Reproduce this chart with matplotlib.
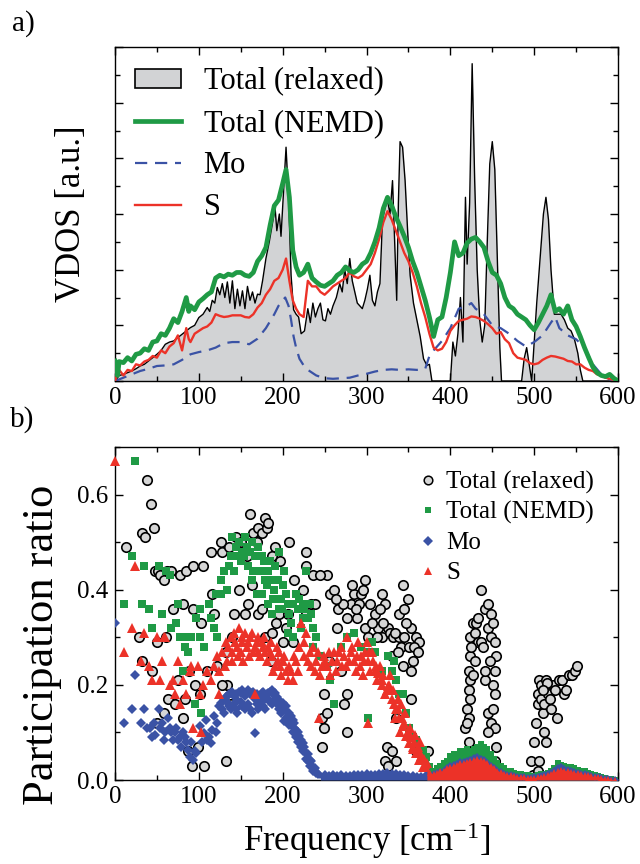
import matplotlib
matplotlib.use("Agg")
import matplotlib.pyplot as plt
from matplotlib.patches import Patch
from matplotlib.lines import Line2D
from matplotlib.ticker import MultipleLocator, NullFormatter, FormatStrFormatter

plt.rcParams['font.family'] = ['Liberation Serif', 'DejaVu Serif']
plt.rcParams['mathtext.fontset'] = 'custom'
plt.rcParams['mathtext.rm'] = 'Liberation Serif'
plt.rcParams['mathtext.it'] = 'Liberation Serif:italic'

GREEN = '#1f9a45'
RED = '#ec3228'
BLUE = '#3a52a5'
FILL = '#d2d3d5'
CIRCLE_FACE = '#d6d6d6'

# ---------------- (a) vibrational density of states ----------------
relaxed_vdos = [
    (0, 0.0), (5, 0.1), (10, 0.12), (15, 0.15), (20, 0.18), (25, 0.22), (30, 0.27), (35, 0.3),
    (40, 0.36), (45, 0.42), (50, 0.48), (55, 0.55), (60, 0.66), (65, 0.7), (70, 0.72), (75, 0.78),
    (80, 0.84), (85, 0.9), (90, 0.96), (95, 1.0), (100, 1.14), (105, 1.2), (110, 1.32), (113, 1.25),
    (116, 1.45), (119, 1.4), (122, 1.68), (125, 1.55), (128, 1.75), (131, 1.5), (134, 1.78),
    (137, 1.4), (140, 1.8), (143, 1.3), (146, 1.65), (149, 1.35), (152, 1.62), (155, 1.3),
    (158, 1.7), (161, 1.45), (164, 1.6), (167, 1.4), (170, 1.56), (173, 1.55), (176, 1.8),
    (180, 2.2), (184, 2.5), (188, 2.85), (191, 3.1), (193, 2.7), (196, 3.0), (198, 2.6),
    (201, 3.4), (204, 4.2), (207, 3.3), (210, 1.9), (213, 1.28), (216, 1.2), (219, 1.15),
    (222, 0.85), (226, 0.9), (230, 1.3), (233, 1.05), (236, 1.4), (239, 1.15), (242, 1.3),
    (245, 1.4), (248, 1.1), (251, 1.08), (254, 1.3), (257, 1.2), (260, 1.35), (264, 1.5),
    (268, 1.75), (271, 1.6), (274, 2.0), (277, 1.75), (280, 2.2), (283, 1.8), (286, 1.6),
    (289, 1.4), (292, 1.35), (295, 1.3), (298, 1.45), (301, 1.65), (304, 1.9), (307, 1.45),
    (310, 1.35), (313, 1.6), (316, 1.75), (319, 2.9), (322, 3.1), (325, 3.25), (328, 3.0),
    (331, 3.6), (334, 2.3), (336, 1.45), (338, 3.2), (340, 4.3), (343, 4.2), (346, 3.6),
    (349, 2.7), (352, 1.9), (356, 1.4), (360, 1.1), (364, 0.8), (368, 0.4), (372, 0.28),
    (375, 0.3), (378, 0.0), (400, 0.0), (403, 0.7), (406, 0.45), (409, 0.85), (412, 1.5),
    (415, 0.7), (418, 3.3), (420, 2.1), (423, 3.2), (426, 5.7), (429, 3.6), (432, 2.0),
    (435, 1.1), (438, 0.7), (441, 1.0), (444, 2.5), (447, 3.9), (450, 4.3), (453, 3.8),
    (456, 2.2), (459, 0.6), (461, 0.0), (485, 0.0), (488, 0.4), (491, 0.6), (494, 0.3),
    (497, 0.0), (500, 0.7), (503, 1.4), (507, 2.2), (511, 3.0), (514, 3.3), (517, 2.9),
    (520, 2.0), (524, 1.2), (528, 1.2), (532, 1.2), (536, 1.1), (540, 0.95), (544, 0.9),
    (548, 0.75), (552, 0.5), (555, 0.2), (558, 0.0), (600, 0.0),
]

nemd_vdos = [
    (0, 0.36), (3, 0.1), (5, 0.35), (10, 0.33), (15, 0.42), (20, 0.36), (25, 0.48), (30, 0.5),
    (35, 0.58), (40, 0.55), (45, 0.7), (50, 0.72), (55, 0.85), (60, 0.82), (65, 0.95), (70, 1.12),
    (75, 1.05), (80, 1.25), (85, 1.5), (88, 1.25), (90, 1.35), (95, 1.28), (100, 1.42),
    (105, 1.48), (110, 1.55), (115, 1.6), (120, 1.85), (125, 1.9), (130, 1.87), (135, 1.92),
    (140, 1.9), (145, 1.95), (150, 1.95), (155, 1.9), (160, 1.88), (165, 1.95), (170, 2.15),
    (175, 2.25), (180, 2.4), (185, 2.8), (190, 3.15), (195, 3.25), (200, 3.55), (204, 3.8),
    (208, 3.3), (212, 2.35), (216, 2.05), (220, 1.9), (225, 1.95), (230, 2.1), (235, 1.85),
    (240, 1.78), (245, 1.72), (250, 1.7), (255, 1.75), (260, 1.8), (265, 1.9), (270, 1.95),
    (275, 2.05), (280, 1.98), (285, 1.95), (290, 2.0), (295, 2.1), (300, 2.15), (305, 2.3),
    (310, 2.5), (315, 2.75), (320, 3.1), (325, 3.3), (330, 3.15), (335, 2.95), (340, 2.78),
    (345, 2.6), (350, 2.4), (355, 2.15), (360, 1.95), (365, 1.7), (370, 1.45), (375, 1.15),
    (380, 0.8), (385, 1.1), (390, 1.15), (395, 1.5), (400, 1.95), (405, 2.5), (410, 2.25),
    (415, 2.3), (420, 2.48), (425, 2.55), (430, 2.58), (435, 2.5), (440, 2.4), (445, 2.15),
    (450, 1.95), (455, 1.9), (460, 1.75), (465, 1.5), (470, 1.35), (475, 1.3), (480, 1.2),
    (485, 1.15), (490, 1.1), (495, 1.0), (500, 0.92), (505, 1.05), (510, 1.2), (515, 1.35),
    (520, 1.55), (525, 1.25), (530, 1.3), (535, 1.2), (540, 1.35), (545, 1.1), (550, 0.98),
    (555, 0.8), (560, 0.6), (565, 0.42), (570, 0.25), (575, 0.15), (580, 0.1), (585, 0.08),
    (590, 0.12), (595, 0.05), (600, 0.0),
]

s_vdos = [
    (0, 0.0), (3, 0.15), (5, 0.2), (10, 0.1), (15, 0.2), (20, 0.18), (25, 0.3), (30, 0.28),
    (35, 0.35), (40, 0.38), (45, 0.45), (50, 0.42), (55, 0.55), (60, 0.5), (65, 0.62), (70, 0.68),
    (75, 0.82), (80, 0.55), (85, 0.95), (88, 0.75), (90, 0.7), (95, 0.85), (100, 0.9),
    (105, 0.95), (110, 0.98), (115, 1.05), (120, 1.2), (125, 1.17), (130, 1.15), (135, 1.16),
    (140, 1.18), (145, 1.18), (150, 1.18), (155, 1.15), (160, 1.14), (165, 1.2), (170, 1.32),
    (175, 1.4), (180, 1.55), (185, 1.65), (190, 1.8), (195, 1.85), (200, 2.0), (204, 2.2),
    (208, 1.8), (212, 1.45), (216, 1.3), (220, 1.2), (225, 1.15), (230, 1.8), (235, 1.7),
    (240, 1.7), (245, 1.6), (250, 1.55), (255, 1.62), (260, 1.7), (265, 1.75), (270, 1.8),
    (275, 1.85), (280, 1.95), (285, 1.88), (290, 1.85), (295, 1.9), (300, 2.0), (305, 2.1),
    (310, 2.3), (315, 2.55), (320, 2.85), (325, 3.05), (330, 2.9), (335, 2.7), (340, 2.5),
    (345, 2.3), (350, 2.15), (355, 1.95), (360, 1.7), (365, 1.4), (370, 1.15), (375, 0.85),
    (380, 0.6), (385, 0.55), (390, 0.58), (395, 0.7), (400, 0.9), (405, 1.0), (410, 1.08),
    (415, 1.1), (420, 1.12), (425, 1.16), (430, 1.15), (435, 1.12), (440, 1.08), (445, 1.02),
    (450, 0.95), (455, 0.85), (460, 0.88), (465, 0.75), (470, 0.68), (475, 0.5), (480, 0.42),
    (485, 0.4), (490, 0.38), (495, 0.32), (500, 0.3), (505, 0.32), (510, 0.38), (515, 0.42),
    (520, 0.45), (525, 0.44), (530, 0.42), (535, 0.4), (540, 0.36), (545, 0.35), (550, 0.3),
    (555, 0.3), (560, 0.24), (565, 0.2), (570, 0.18), (575, 0.12), (580, 0.1), (585, 0.06),
    (590, 0.04), (595, 0.02), (600, 0.0),
]

mo_vdos = [
    (0, 0.0), (10, 0.06), (20, 0.12), (30, 0.18), (40, 0.22), (50, 0.27), (60, 0.28), (70, 0.3),
    (80, 0.38), (90, 0.48), (100, 0.52), (110, 0.55), (120, 0.6), (130, 0.68), (140, 0.7),
    (150, 0.7), (160, 0.66), (170, 0.76), (180, 0.95), (190, 1.2), (195, 1.35), (200, 1.45),
    (203, 1.5), (207, 1.35), (210, 1.1), (213, 0.8), (216, 0.6), (220, 0.4), (225, 0.28),
    (230, 0.2), (240, 0.1), (250, 0.05), (260, 0.04), (270, 0.05), (280, 0.06), (290, 0.1),
    (300, 0.13), (310, 0.17), (320, 0.2), (330, 0.21), (340, 0.2), (350, 0.21), (360, 0.2),
    (370, 0.22), (375, 0.45), (380, 0.55), (390, 0.72), (400, 0.95), (410, 1.3), (420, 1.35),
    (425, 1.4), (430, 1.3), (440, 1.2), (450, 1.0), (460, 0.95), (470, 0.85), (480, 0.72),
    (490, 0.62), (500, 0.7), (510, 0.82), (520, 1.05), (525, 1.15), (530, 0.95), (540, 0.82),
    (550, 0.75), (560, 0.6), (570, 0.3), (580, 0.12), (590, 0.03), (600, 0.0),
]

vdos_labels = ['Total (relaxed)', 'Total (NEMD)', 'Mo', 'S']

# ---------------- (b) participation ratio ----------------
relaxed_pr = [
    (13, 0.49), (32, 0.52), (36, 0.51), (38, 0.63), (43, 0.58), (46, 0.53), (48, 0.44), (51, 0.44),
    (54, 0.43), (58, 0.42), (62, 0.44), (67, 0.44), (77, 0.43), (85, 0.44), (93, 0.45), (105, 0.45),
    (114, 0.48), (126, 0.50), (128, 0.48), (136, 0.49), (144, 0.51), (161, 0.56), (165, 0.52),
    (171, 0.53), (175, 0.52), (179, 0.55), (181, 0.53), (183, 0.54), (191, 0.49), (208, 0.50),
    (228, 0.48), (228, 0.45), (236, 0.43), (253, 0.43), (150, 0.50), (157, 0.47), (169, 0.50),
    (187, 0.47), (197, 0.46),
    (29, 0.30), (32, 0.25), (44, 0.23), (50, 0.12), (50, 0.29), (61, 0.30), (69, 0.36), (81, 0.37),
    (93, 0.36), (102, 0.33), (63, 0.17), (71, 0.16), (81, 0.13), (87, 0.06), (92, 0.03), (99, 0.07),
    (106, 0.03), (132, 0.04), (101, 0.18), (95, 0.20), (110, 0.23), (122, 0.24), (118, 0.35),
    (116, 0.39), (132, 0.27), (134, 0.20), (138, 0.16), (142, 0.35), (148, 0.40), (155, 0.35),
    (159, 0.37), (163, 0.41), (171, 0.35), (175, 0.36), (179, 0.30), (187, 0.31), (196, 0.35),
    (204, 0.32), (206, 0.35), (212, 0.29), (214, 0.42), (224, 0.40), (228, 0.35), (234, 0.37),
    (238, 0.37), (245, 0.43), (249, 0.18), (247, 0.13), (247, 0.07), (249, 0.11), (253, 0.14),
    (255, 0.25), (257, 0.39), (261, 0.40), (265, 0.32), (269, 0.23), (273, 0.16), (277, 0.18),
    (277, 0.10), (281, 0.37), (285, 0.39), (283, 0.41), (294, 0.39), (298, 0.42), (291, 0.37),
    (298, 0.32), (302, 0.30), (310, 0.35), (314, 0.32), (318, 0.30), (318, 0.39), (326, 0.32),
    (322, 0.37), (328, 0.31), (331, 0.30), (330, 0.26), (339, 0.30), (339, 0.35), (341, 0.28),
    (343, 0.24), (343, 0.41), (349, 0.38), (351, 0.28), (353, 0.32), (355, 0.25), (359, 0.30),
    (363, 0.29), (335, 0.13), (324, 0.07), (322, 0.04), (330, 0.06), (326, 0.03), (335, 0.04),
    (353, 0.17), (359, 0.06), (373, 0.06), (353, 0.23), (347, 0.33), (289, 0.34), (306, 0.33),
    (266, 0.36), (272, 0.37), (277, 0.34), (186, 0.25), (192, 0.33), (200, 0.29), (140, 0.30),
    (128, 0.20), (88, 0.23), (84, 0.17), (75, 0.21), (58, 0.14),
    (263, 0.38), (287, 0.36), (296, 0.40), (304, 0.37), (312, 0.30), (316, 0.36), (320, 0.33),
    (334, 0.31), (337, 0.27), (345, 0.30), (357, 0.28), (361, 0.27), (345, 0.36),
    (416, 0.00), (418, 0.11), (420, 0.15), (422, 0.19), (422, 0.23), (424, 0.26), (424, 0.30),
    (427, 0.33), (429, 0.31), (429, 0.25), (424, 0.21), (424, 0.17), (422, 0.13), (422, 0.08),
    (424, 0.04), (427, 0.01), (431, 0.33), (433, 0.29), (437, 0.40), (441, 0.36), (445, 0.37),
    (445, 0.32), (449, 0.30), (449, 0.35), (451, 0.33), (453, 0.29), (453, 0.23), (451, 0.20),
    (453, 0.18), (445, 0.14), (449, 0.12), (453, 0.11), (455, 0.07), (453, 0.04), (441, 0.21),
    (437, 0.29), (441, 0.23), (455, 0.26), (445, 0.10), (443, 0.04), (433, 0.34), (439, 0.28),
    (447, 0.25), (451, 0.15), (425, 0.28), (427, 0.22), (420, 0.12), (426, 0.06),
    (496, 0.04), (498, 0.01), (504, 0.02), (506, 0.04), (500, 0.08), (502, 0.12), (504, 0.16),
    (504, 0.18), (506, 0.21), (508, 0.17), (510, 0.14), (512, 0.10), (514, 0.08), (508, 0.20),
    (514, 0.21), (512, 0.16), (517, 0.18), (519, 0.17), (523, 0.20), (527, 0.13), (529, 0.21),
    (533, 0.21), (535, 0.18), (541, 0.22), (545, 0.22), (549, 0.23), (551, 0.24), (515, 0.205),
    (510, 0.19), (520, 0.15), (525, 0.19), (538, 0.19),
]

nemd_pr = [
    (24, 0.67), (20, 0.47), (11, 0.37), (32, 0.37), (35, 0.45), (40, 0.36), (44, 0.32), (52, 0.45),
    (56, 0.35), (61, 0.44), (65, 0.43), (67, 0.32), (73, 0.33), (75, 0.37), (77, 0.30), (81, 0.30),
    (81, 0.23), (83, 0.28), (87, 0.27), (91, 0.30), (97, 0.34), (95, 0.16), (101, 0.36),
    (103, 0.14), (101, 0.30), (106, 0.28), (112, 0.37), (114, 0.34), (118, 0.32), (122, 0.30),
    (120, 0.39), (126, 0.39), (126, 0.42), (134, 0.40), (130, 0.44), (136, 0.45), (140, 0.51),
    (144, 0.49), (148, 0.50), (155, 0.51), (163, 0.50), (167, 0.47), (171, 0.49), (175, 0.47),
    (179, 0.42), (183, 0.44), (187, 0.42), (191, 0.45), (196, 0.48), (200, 0.41), (204, 0.39),
    (208, 0.35), (212, 0.37), (216, 0.39), (220, 0.38), (224, 0.37), (228, 0.44), (232, 0.37),
    (236, 0.32), (240, 0.30), (224, 0.34), (206, 0.31), (212, 0.30), (146, 0.47), (150, 0.46),
    (159, 0.45), (163, 0.42), (169, 0.39), (175, 0.39), (183, 0.37), (187, 0.35), (196, 0.36),
    (236, 0.28), (245, 0.26), (253, 0.24), (257, 0.21), (261, 0.16), (269, 0.28), (277, 0.30),
    (285, 0.31), (294, 0.28), (302, 0.27), (306, 0.29), (310, 0.27), (318, 0.23), (326, 0.26),
    (330, 0.23), (335, 0.21), (339, 0.18), (343, 0.18), (347, 0.14), (351, 0.11), (355, 0.09),
    (359, 0.085), (367, 0.063), (371, 0.049), (302, 0.13), (333, 0.25), (152, 0.48), (158, 0.49),
    (178, 0.46), (190, 0.40), (198, 0.38), (202, 0.44),
    (138, 0.47), (142, 0.44), (154, 0.47), (161, 0.48), (165, 0.44), (173, 0.44), (181, 0.41),
    (185, 0.46), (189, 0.38), (194, 0.42), (199, 0.36), (206, 0.37), (210, 0.33), (218, 0.36),
    (222, 0.32), (226, 0.36), (230, 0.34), (234, 0.35),
]

mo_pr = [
    (0, 0.33), (11, 0.12), (20, 0.15), (24, 0.22), (31, 0.12), (34, 0.15), (42, 0.11), (48, 0.095),
    (52, 0.15), (54, 0.11), (58, 0.085), (63, 0.13), (65, 0.11), (67, 0.10), (69, 0.085),
    (73, 0.11), (75, 0.085), (79, 0.07), (81, 0.10), (85, 0.08), (87, 0.063), (89, 0.049),
    (93, 0.042), (97, 0.056), (101, 0.113), (106, 0.099), (108, 0.127), (110, 0.085), (114, 0.077),
    (116, 0.106), (118, 0.134), (122, 0.12), (124, 0.155), (126, 0.162), (130, 0.169), (134, 0.176),
    (138, 0.183), (142, 0.176), (146, 0.169), (150, 0.183), (155, 0.176), (159, 0.19), (163, 0.183),
    (167, 0.099), (171, 0.169), (175, 0.183), (179, 0.176), (183, 0.183), (187, 0.19), (191, 0.183),
    (196, 0.169), (200, 0.162), (204, 0.155), (208, 0.141), (212, 0.127), (216, 0.106), (220, 0.092),
    (224, 0.077), (228, 0.056), (232, 0.042), (236, 0.028), (240, 0.014),
    (130, 0.14), (138, 0.15), (146, 0.14), (155, 0.15), (163, 0.14), (171, 0.15), (179, 0.15),
    (187, 0.16), (196, 0.15), (204, 0.13), (210, 0.12), (216, 0.09), (222, 0.07), (230, 0.04),
    (142, 0.16), (150, 0.165), (159, 0.16), (167, 0.17), (175, 0.165), (183, 0.17), (191, 0.17),
    (200, 0.145), (206, 0.13), (214, 0.11), (220, 0.08), (226, 0.06), (234, 0.03), (238, 0.02),
    (120, 0.10), (112, 0.09), (104, 0.08), (96, 0.06), (128, 0.15), (134, 0.165), (91, 0.08),
    (83, 0.09), (77, 0.09), (71, 0.10), (60, 0.10), (56, 0.12), (46, 0.12), (44, 0.09), (38, 0.11),
    (132, 0.175), (136, 0.18), (140, 0.185), (144, 0.18), (148, 0.185), (152, 0.19), (157, 0.185),
    (161, 0.18), (165, 0.185), (169, 0.18), (173, 0.175), (177, 0.185), (181, 0.18), (185, 0.185),
    (189, 0.18), (193, 0.175), (198, 0.16), (202, 0.15), (206, 0.14), (210, 0.135), (214, 0.12),
    (218, 0.10), (222, 0.085), (226, 0.07), (230, 0.055), (234, 0.04), (238, 0.025), (242, 0.012),
    (136, 0.155), (144, 0.15), (152, 0.155), (161, 0.15), (169, 0.16), (177, 0.155), (185, 0.165),
    (193, 0.16), (198, 0.14), (202, 0.125), (208, 0.115), (212, 0.10), (218, 0.08), (224, 0.06),
    (228, 0.045), (232, 0.03), (236, 0.018),
]

s_pr = [
    (0, 0.67), (24, 0.45), (11, 0.27), (20, 0.32), (31, 0.25), (35, 0.31), (40, 0.24), (44, 0.21),
    (50, 0.30), (54, 0.21), (56, 0.25), (58, 0.30), (60, 0.30), (65, 0.20), (69, 0.21), (71, 0.18),
    (75, 0.25), (77, 0.16), (81, 0.21), (85, 0.18), (89, 0.23), (91, 0.24), (93, 0.11), (99, 0.24),
    (103, 0.10), (101, 0.18), (105, 0.20), (110, 0.23), (114, 0.21), (118, 0.24), (122, 0.26),
    (124, 0.23), (128, 0.27), (132, 0.29), (134, 0.25), (138, 0.30), (142, 0.31), (146, 0.28),
    (148, 0.32), (150, 0.27), (155, 0.31), (159, 0.29), (163, 0.31), (167, 0.28), (171, 0.30),
    (175, 0.29), (179, 0.27), (183, 0.28), (187, 0.26), (191, 0.24), (196, 0.27), (200, 0.25),
    (204, 0.23), (208, 0.24), (212, 0.21), (216, 0.25), (220, 0.28), (222, 0.33), (226, 0.29),
    (228, 0.31), (232, 0.27), (236, 0.28), (240, 0.25), (245, 0.22), (249, 0.26), (253, 0.24),
    (257, 0.22), (261, 0.27), (265, 0.25), (269, 0.28), (273, 0.26), (277, 0.30), (281, 0.27),
    (285, 0.25), (290, 0.29), (294, 0.26), (298, 0.27), (302, 0.25), (306, 0.27), (310, 0.23),
    (314, 0.225), (318, 0.20), (322, 0.18), (326, 0.197), (330, 0.17), (335, 0.15), (339, 0.13),
    (343, 0.113), (347, 0.092), (351, 0.077), (355, 0.07), (359, 0.056), (363, 0.042), (367, 0.028),
    (167, 0.18), (302, 0.12), (243, 0.13), (124, 0.18),
    (140, 0.27), (152, 0.30), (160, 0.26), (170, 0.27), (178, 0.30), (186, 0.29), (194, 0.25),
    (198, 0.22), (206, 0.21), (214, 0.26), (218, 0.23), (230, 0.25), (238, 0.23), (247, 0.24),
    (255, 0.27), (263, 0.23), (271, 0.24), (279, 0.25), (287, 0.23), (292, 0.24), (296, 0.22),
    (300, 0.29), (304, 0.23), (308, 0.25), (312, 0.21), (316, 0.24), (320, 0.22), (324, 0.19),
    (328, 0.22), (332, 0.19), (337, 0.17), (341, 0.16), (345, 0.12), (349, 0.10), (353, 0.09),
    (357, 0.08), (361, 0.07), (365, 0.05), (334, 0.13), (340, 0.10), (346, 0.14), (350, 0.10),
    (356, 0.065), (362, 0.06), (370, 0.03),
    (131, 0.24), (135, 0.28), (139, 0.25), (143, 0.29), (147, 0.26), (151, 0.29), (153, 0.25),
    (157, 0.28), (161, 0.30), (165, 0.27), (169, 0.29), (173, 0.26), (177, 0.28), (181, 0.25),
    (185, 0.27), (189, 0.23), (193, 0.28), (197, 0.24), (202, 0.26), (210, 0.23), (226, 0.26),
    (234, 0.24), (242, 0.27), (251, 0.25), (259, 0.25), (267, 0.27), (275, 0.24), (283, 0.28),
    (289, 0.26), (297, 0.25), (303, 0.27), (311, 0.24), (319, 0.21), (327, 0.20), (333, 0.16),
    (338, 0.15), (342, 0.13), (352, 0.11), (358, 0.095), (364, 0.08), (368, 0.045), (372, 0.035),
]

# dense low-ratio modes above ~370 cm^-1 (upper edge of each cloud)
band_freq = [372, 376, 380, 384, 388, 392, 396, 400, 404, 408, 412, 416, 420, 424, 428, 432,
             436, 440, 444, 448, 452, 456, 460, 464, 468, 472, 476, 480, 484, 488, 492, 496,
             500, 504, 508, 512, 516, 520, 524, 528, 532, 536, 540, 544, 548, 552, 556, 560,
             564, 568, 572, 576, 580, 584, 588, 592, 596]
nemd_band = [0.05, 0.03, 0.02, 0.025, 0.03, 0.035, 0.04, 0.05, 0.055, 0.055, 0.06, 0.06, 0.065,
             0.06, 0.065, 0.07, 0.075, 0.07, 0.065, 0.055, 0.045, 0.035, 0.03, 0.025, 0.02, 0.018,
             0.015, 0.013, 0.012, 0.01, 0.01, 0.008, 0.008, 0.01, 0.012, 0.012, 0.015, 0.018,
             0.025, 0.035, 0.032, 0.03, 0.028, 0.028, 0.025, 0.022, 0.02, 0.018, 0.015, 0.012,
             0.01, 0.008, 0.006, 0.004, 0.003, 0.002, 0.001]
s_band = [0.03, 0.015, 0.012, 0.015, 0.018, 0.02, 0.025, 0.028, 0.03, 0.032, 0.035, 0.035, 0.038,
          0.04, 0.042, 0.045, 0.042, 0.04, 0.035, 0.03, 0.025, 0.02, 0.016, 0.013, 0.011, 0.01,
          0.008, 0.007, 0.006, 0.006, 0.005, 0.005, 0.005, 0.006, 0.007, 0.008, 0.01, 0.012,
          0.016, 0.02, 0.022, 0.02, 0.018, 0.017, 0.015, 0.014, 0.012, 0.011, 0.01, 0.008, 0.007,
          0.006, 0.005, 0.003, 0.002, 0.001, 0.001]
mo_band_freq = [245, 250, 255, 260, 265, 270, 275, 280, 285, 290, 295, 300, 305, 310, 315, 320,
                325, 330, 335, 340, 345, 350, 355, 360, 365, 370] + band_freq
mo_band = [0.011, 0.012, 0.01, 0.012, 0.01, 0.012, 0.011, 0.01, 0.012, 0.013, 0.012, 0.014,
           0.013, 0.012, 0.014, 0.015, 0.016, 0.015, 0.014, 0.012, 0.013, 0.011, 0.01, 0.009,
           0.008, 0.009,
           0.012, 0.01, 0.012, 0.014, 0.017, 0.02, 0.025, 0.03, 0.032, 0.034, 0.037, 0.038, 0.04,
           0.043, 0.046, 0.048, 0.045, 0.042, 0.036, 0.03, 0.025, 0.02, 0.016, 0.013, 0.011, 0.01,
           0.008, 0.007, 0.006, 0.006, 0.005, 0.005, 0.006, 0.007, 0.008, 0.01, 0.012, 0.015,
           0.02, 0.025, 0.027, 0.024, 0.021, 0.019, 0.017, 0.015, 0.013, 0.012, 0.01, 0.009,
           0.007, 0.006, 0.005, 0.003, 0.002, 0.001, 0.001]

pr_labels = ['Total (relaxed)', 'Total (NEMD)', 'Mo', 'S']


def unzip(points):
    return [p[0] for p in points], [p[1] for p in points]


def style_axes(ax):
    for sp in ax.spines.values():
        sp.set_linewidth(1.0)
    ax.set_xlim(0, 600)
    ax.xaxis.set_major_locator(MultipleLocator(100))
    ax.xaxis.set_minor_locator(MultipleLocator(50))
    ax.tick_params(which='both', direction='in', top=True, right=True, width=1.0,
                   labelsize=18)
    ax.tick_params(which='major', length=6)
    ax.tick_params(which='minor', length=3.5)
    ax.tick_params(axis='x', pad=4)
    ax.tick_params(axis='y', pad=5)


fig = plt.figure(figsize=(6.4, 8.64), dpi=100)

# ---- panel (a) ----
ax_a = fig.add_axes([0.1797, 0.559, 0.786, 0.3866])
style_axes(ax_a)
ax_a.set_ylim(0, 6)
ax_a.yaxis.set_major_locator(MultipleLocator(1))
ax_a.yaxis.set_minor_locator(MultipleLocator(0.5))
ax_a.yaxis.set_major_formatter(NullFormatter())

f, v = unzip(relaxed_vdos)
ax_a.fill_between(f, 0, v, color=FILL, lw=0, zorder=1)
ax_a.plot(f, v, color='black', lw=1.0, zorder=2)
f, v = unzip(mo_vdos)
ax_a.plot(f, v, color=BLUE, lw=1.6, dashes=(5.5, 3.5), zorder=3)
f, v = unzip(s_vdos)
ax_a.plot(f, v, color=RED, lw=1.7, zorder=4)
f, v = unzip(nemd_vdos)
ax_a.plot(f, v, color=GREEN, lw=3.4, zorder=5)

ax_a.set_ylabel('VDOS [a.u.]', fontsize=25)
ax_a.yaxis.set_label_coords(-0.054, 0.5)

handles_a = [
    Patch(facecolor=FILL, edgecolor='black', linewidth=1.2),
    Line2D([], [], color=GREEN, lw=3.4),
    Line2D([], [], color=BLUE, lw=1.6, dashes=(5.5, 3.5)),
    Line2D([], [], color=RED, lw=1.7),
]
ax_a.legend(handles_a, vdos_labels, loc='upper left', bbox_to_anchor=(0.0, 1.0),
            frameon=False, fontsize=22, handlelength=1.5, handleheight=0.55,
            handletextpad=0.75, labelspacing=0.42, borderaxespad=0.25)

fig.text(0.018, 0.973, 'a)', fontsize=21, ha='left', va='center')

# ---- panel (b) ----
ax_b = fig.add_axes([0.1797, 0.0972, 0.786, 0.3854])
style_axes(ax_b)
ax_b.set_ylim(0, 0.7)
ax_b.yaxis.set_major_locator(MultipleLocator(0.2))
ax_b.yaxis.set_minor_locator(MultipleLocator(0.1))
ax_b.yaxis.set_major_formatter(FormatStrFormatter('%.1f'))

f, v = unzip(relaxed_pr)
ax_b.plot(f, v, ls='none', marker='o', ms=6.8, mfc=CIRCLE_FACE, mec='black', mew=1.2,
          zorder=2)

ax_b.fill_between(band_freq, 0, nemd_band, color=GREEN, lw=0, zorder=3)
ax_b.plot(band_freq, nemd_band, ls='none', marker='s', ms=4.6, color=GREEN, mew=0, zorder=3)
f, v = unzip(nemd_pr)
ax_b.plot(f, v, ls='none', marker='s', ms=5.4, color=GREEN, mew=0, zorder=3)

ax_b.fill_between(mo_band_freq, 0, mo_band, color=BLUE, lw=0, zorder=4)
ax_b.plot(mo_band_freq, mo_band, ls='none', marker='D', ms=4.2, color=BLUE, mew=0, zorder=4)
f, v = unzip(mo_pr)
ax_b.plot(f, v, ls='none', marker='D', ms=4.8, color=BLUE, mew=0, zorder=4)

ax_b.fill_between(band_freq, 0, s_band, color=RED, lw=0, zorder=5)
ax_b.plot(band_freq, s_band, ls='none', marker='^', ms=5.0, color=RED, mew=0, zorder=5)
f, v = unzip(s_pr)
ax_b.plot(f, v, ls='none', marker='^', ms=6.5, color=RED, mew=0, zorder=5, clip_on=False)

ax_b.set_xlabel('Frequency [cm$^{-1}$]', fontsize=25)
ax_b.xaxis.set_label_coords(0.5, -0.122)
ax_b.set_ylabel('Participation ratio', fontsize=32)
ax_b.yaxis.set_label_coords(-0.105, 0.405)

handles_b = [
    Line2D([], [], ls='none', marker='o', ms=6.2, mfc=CIRCLE_FACE, mec='black', mew=1.1),
    Line2D([], [], ls='none', marker='s', ms=5.0, color=GREEN, mew=0),
    Line2D([], [], ls='none', marker='D', ms=4.6, color=BLUE, mew=0),
    Line2D([], [], ls='none', marker='^', ms=6.0, color=RED, mew=0),
]
ax_b.legend(handles_b, pr_labels, loc='upper right', bbox_to_anchor=(1.0, 1.0),
            frameon=False, fontsize=18, handlelength=0.6, handletextpad=0.45,
            labelspacing=0.3, borderaxespad=0.55)

fig.text(0.016, 0.515, 'b)', fontsize=21, ha='left', va='center')

fig.savefig('out.png', dpi=100)
